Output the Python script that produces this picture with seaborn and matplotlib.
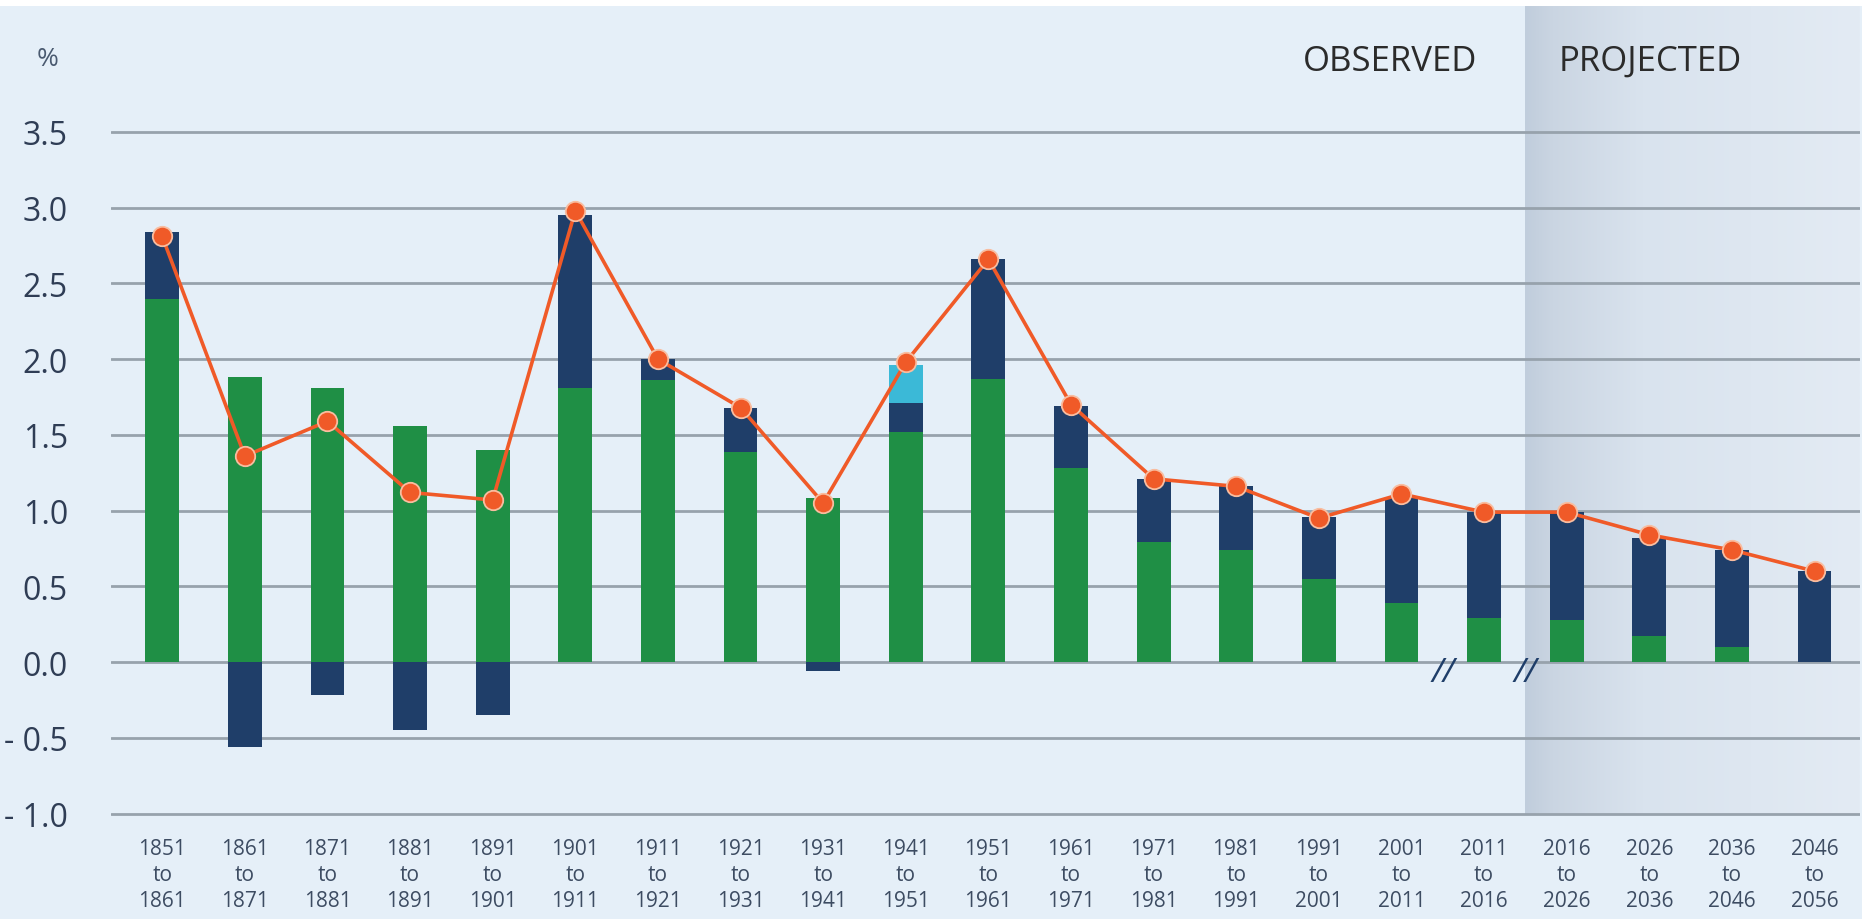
import numpy as np
import pandas as pd
import matplotlib
matplotlib.use("Agg")
import matplotlib.pyplot as plt
import seaborn as sns
from matplotlib import font_manager
from matplotlib.colors import LinearSegmentedColormap
from matplotlib.patches import Rectangle

# ---------------- data ----------------
periods = ["1851\nto\n1861", "1861\nto\n1871", "1871\nto\n1881", "1881\nto\n1891",
           "1891\nto\n1901", "1901\nto\n1911", "1911\nto\n1921", "1921\nto\n1931",
           "1931\nto\n1941", "1941\nto\n1951", "1951\nto\n1961", "1961\nto\n1971",
           "1971\nto\n1981", "1981\nto\n1991", "1991\nto\n2001", "2001\nto\n2011",
           "2011\nto\n2016", "2016\nto\n2026", "2026\nto\n2036", "2036\nto\n2046",
           "2046\nto\n2056"]
natural = [2.40, 1.88, 1.81, 1.56, 1.40, 1.81, 1.86, 1.39, 1.08, 1.52, 1.87,
           1.28, 0.79, 0.74, 0.55, 0.39, 0.29, 0.28, 0.17, 0.10, 0.0]
migratory = [0.44, -0.56, -0.22, -0.45, -0.35, 1.14, 0.14, 0.29, -0.06, 0.19, 0.79,
             0.41, 0.42, 0.42, 0.41, 0.70, 0.70, 0.71, 0.65, 0.64, 0.60]
newfoundland = [0, 0, 0, 0, 0, 0, 0, 0, 0, 0.25, 0, 0, 0, 0, 0, 0, 0, 0, 0, 0, 0]
total = [2.81, 1.36, 1.59, 1.12, 1.07, 2.98, 2.00, 1.68, 1.05, 1.98, 2.66,
         1.70, 1.21, 1.16, 0.95, 1.11, 0.99, 0.99, 0.84, 0.74, 0.60]
ytick_vals = [-1.0, -0.5, 0.0, 0.5, 1.0, 1.5, 2.0, 2.5, 3.0, 3.5]
ytick_labels = ["- 1.0", "- 0.5", "0.0", "0.5", "1.0", "1.5", "2.0", "2.5", "3.0", "3.5"]

# ---------------- style ----------------
BG = "#e5eff8"
GREEN = "#1f8f45"
NAVY = "#1f3e69"
CYAN = "#3bb9d7"
ORANGE = "#f05a28"
GRID = "#97a2ac"
TXT = "#2f3d55"

sns.set_theme(style="white")
avail = {f.name for f in font_manager.fontManager.ttflist}
fam = [f for f in ["Liberation Sans Narrow", "Open Sans", "DejaVu Sans"] if f in avail]
plt.rcParams["font.family"] = fam

W, H = 1862, 920
fig = plt.figure(figsize=(W / 100, H / 100), dpi=100, facecolor=BG)
fig.patches.append(Rectangle((0, 1 - 7 / H), 1, 7 / H, transform=fig.transFigure,
                             facecolor="white", edgecolor="none", zorder=0))
ax_bottom_px, ax_top_px = 820, 7
ax = fig.add_axes([111 / W, (H - ax_bottom_px) / H, (1860 - 111) / W,
                   (ax_bottom_px - ax_top_px) / H])
ax.set_facecolor(BG)

df = pd.DataFrame({"period": periods, "natural": natural, "migratory": migratory,
                   "newfoundland": newfoundland, "total": total})
nat = np.array(natural)
mig = np.array(migratory)
mig_bottom = np.where(mig >= 0, nat, 0.0)
nf_bottom = nat + np.where(mig >= 0, mig, 0.0)

bw = 0.41
sns.barplot(data=df, x="period", y="natural", color=GREEN, width=bw, saturation=1,
            linewidth=0, errorbar=None, ax=ax, zorder=3)
sns.barplot(data=df, x="period", y="migratory", bottom=mig_bottom, color=NAVY, width=bw,
            saturation=1, linewidth=0, errorbar=None, ax=ax, zorder=3)
sns.barplot(data=df, x="period", y="newfoundland", bottom=nf_bottom, color=CYAN, width=bw,
            saturation=1, linewidth=0, errorbar=None, ax=ax, zorder=3)
sns.pointplot(data=df, x="period", y="total", color=ORANGE, markers="o", markersize=14,
              linewidth=2.6, errorbar=None, ax=ax, zorder=6,
              markeredgecolor="#f8bda0", markeredgewidth=1.3)

# limits
px_per_unit = (814.5 - 133) / 4.5
ytop = 3.5 + (133 - ax_top_px) / px_per_unit
ybot = -1.0 - (ax_bottom_px - 814.5) / px_per_unit
xmin, xmax = -0.62, 20.55

# projected shading
cm = LinearSegmentedColormap.from_list(
    "proj", [(0.0, "#c0cddc"), (0.08, "#cad5e2"), (0.35, "#d9e3ee"), (1.0, "#e3ebf4")])
grad = np.linspace(0, 1, 256).reshape(1, -1)
ax.imshow(grad, extent=(16.5, xmax, -1.0, ytop), aspect="auto", cmap=cm, zorder=0.2,
          interpolation="bilinear")

ax.set_xlim(xmin, xmax)
ax.set_ylim(ybot, ytop)

# grid
ax.set_yticks(ytick_vals)
ax.set_yticklabels(ytick_labels)
ax.yaxis.grid(True, color=GRID, linewidth=2.0)
ax.xaxis.grid(False)
ax.set_axisbelow(True)
for s in ax.spines.values():
    s.set_visible(False)
ax.set_xlabel("")
ax.set_ylabel("")
ax.tick_params(axis="y", length=0, pad=31, labelsize=23, labelcolor=TXT)
ax.tick_params(axis="x", length=0, pad=14, labelsize=15, labelcolor="#3d4c62")
ax.set_xticks(range(len(periods)))
ax.set_xticklabels(periods)
for lab in ax.get_xticklabels():
    lab.set_linespacing(1.3)
for lab in ax.get_yticklabels():
    lab.set_horizontalalignment("right")

# break marks
for xb in (15.5, 16.5):
    ax.text(xb, -0.07, "//", ha="center", va="center", fontsize=24, color=NAVY,
            style="italic", zorder=7)

# texts
fig.text(48 / W, 1 - 59 / H, "%", ha="center", va="center", fontsize=19, color="#4a5a70")
fig.text(1390 / W, 1 - 62 / H, "OBSERVED", ha="center", va="center", fontsize=25,
         color="#2b2b2b")
fig.text(1650 / W, 1 - 62 / H, "PROJECTED", ha="center", va="center", fontsize=25,
         color="#2b2b2b")

fig.savefig("out.png", dpi=100, facecolor=BG)
